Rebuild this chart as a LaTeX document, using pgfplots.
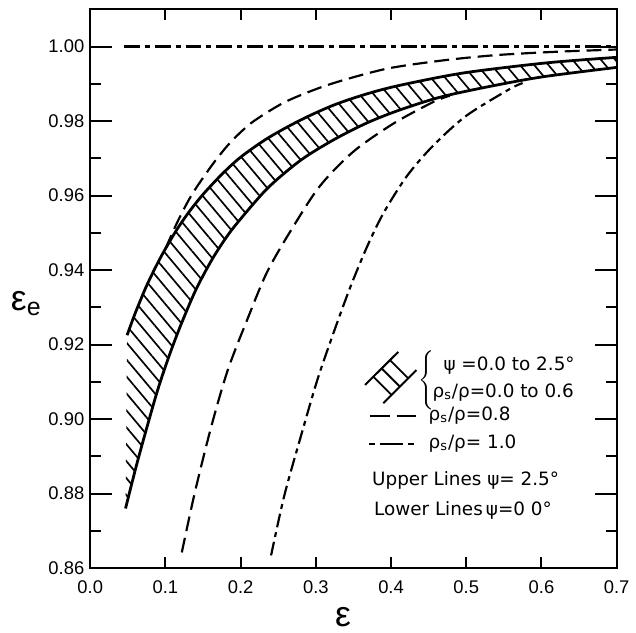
\documentclass[border=0pt]{standalone}
\usepackage{fontspec}
\setmainfont{Liberation Sans}
\newfontfamily\keyfont{DejaVu Sans}
\usepackage{pgfplots}
\pgfplotsset{compat=1.18}
\usepgfplotslibrary{fillbetween}
\usetikzlibrary{patterns.meta}

\begin{document}
\begin{tikzpicture}
\begin{axis}[
  scale only axis, width=265.5bp, height=282bp,
  xmin=0, xmax=0.7, ymin=0.86, ymax=1.0101,
  axis line style={line width=1bp},
  xtick={0,0.1,0.2,0.3,0.4,0.5,0.6,0.7},
  minor xtick={0.1,0.2,0.3,0.4,0.5,0.6},
  ytick={0.86,0.88,0.90,0.92,0.94,0.96,0.98,1.00},
  minor ytick={0.87,0.89,0.91,0.93,0.95,0.97,0.99,1.01},
  tick align=inside, xtick pos=both, ytick pos=both,
  major tick length=11bp, minor tick length=5.5bp,
  every tick/.append style={black, line width=1bp},
  every major x tick/.append style={draw opacity=0},
  tick label style={font=\fontsize{9.3}{11}\selectfont},
  /pgf/number format/assume math mode=true,
  xticklabel style={/pgf/number format/.cd, fixed, fixed zerofill, precision=1, /tikz/.cd, yshift=-3bp},
  yticklabel style={/pgf/number format/.cd, fixed, fixed zerofill, precision=2, /tikz/.cd, xshift=0.5bp},
  scaled ticks=false,
]
% hatched band, psi = 0.0 to 2.5 deg, rho_s/rho = 0.0 to 0.6
\addplot[name path=up, line width=1.4bp, smooth] coordinates {
  (0.049,0.9225) (0.060,0.9285) (0.075,0.9358) (0.090,0.9420) (0.100,0.9457)
  (0.115,0.9508) (0.131,0.9555) (0.150,0.9603) (0.175,0.9657) (0.200,0.9703)
  (0.236,0.9754) (0.280,0.9803) (0.324,0.9843) (0.368,0.9873) (0.412,0.9896)
  (0.496,0.9929) (0.606,0.9956) (0.700,0.9971)};
\addplot[name path=lo, line width=1.4bp, smooth] coordinates {
  (0.047,0.8760) (0.061,0.8872) (0.075,0.8975) (0.090,0.9080) (0.105,0.9170)
  (0.120,0.9250) (0.140,0.9345) (0.161,0.9425) (0.180,0.9485) (0.197,0.9530)
  (0.236,0.9620) (0.280,0.9695) (0.324,0.9750) (0.368,0.9795) (0.412,0.9830)
  (0.469,0.9866) (0.544,0.9898) (0.606,0.9920) (0.700,0.9944)};
\addplot[draw=none, pattern={Lines[angle=-50,distance=5.5bp,line width=0.85bp]}]
  fill between[of=up and lo];
% rho_s/rho = 0.8
\addplot[line width=1.1bp, dash pattern=on 7.5bp off 3.5bp, smooth] coordinates {
  (0.100,0.9457) (0.115,0.9525) (0.131,0.9588) (0.144,0.9630) (0.165,0.9690)
  (0.183,0.9735) (0.200,0.9770) (0.219,0.9802) (0.258,0.9850) (0.302,0.9887)
  (0.342,0.9913) (0.398,0.9942) (0.470,0.9963) (0.540,0.9977) (0.620,0.9986)
  (0.700,0.9992)};
\addplot[line width=1.1bp, dash pattern=on 7.5bp off 3.5bp, smooth] coordinates {
  (0.1218,0.8642) (0.139,0.8802) (0.161,0.8980) (0.183,0.9132) (0.210,0.9273)
  (0.236,0.9398) (0.271,0.9520) (0.306,0.9627) (0.350,0.9718) (0.403,0.9793)
  (0.456,0.9851) (0.478,0.9868)};
% rho_s/rho = 1.0
\addplot[line width=1.1bp, dash pattern=on 8bp off 2.5bp on 2.5bp off 2.5bp] coordinates {
  (0.045,1.0000) (0.700,1.0000)};
\addplot[line width=1.1bp, dash pattern=on 7bp off 2.5bp on 2.5bp off 2.5bp, smooth] coordinates {
  (0.2405,0.8634) (0.258,0.8794) (0.280,0.8953) (0.302,0.9105) (0.324,0.9234)
  (0.346,0.9355) (0.368,0.9462) (0.390,0.9553) (0.421,0.9652) (0.456,0.9734)
  (0.500,0.9814) (0.557,0.9885) (0.575,0.9902)};
\end{axis}
% labels and key, in pixel units of the reference
\begin{scope}[x=0.5bp, y=-0.5bp, shift={(-45.5bp,286.5bp)}]
  \path (0,0) rectangle (633,636);
  \node[font=\fontsize{18}{20}\selectfont] at (346,622) {ε};
  \node[font=\fontsize{18}{20}\selectfont, anchor=west] at (4,306) {ε\textsubscript{e}};
  % hatched key
  \draw[line width=1bp] (368.3,388.3) -- (401.7,355.0) (386.7,406.7) -- (420.0,373.3);
  \draw[line width=0.9bp] (376.65,379.98) -- (394.95,398.28)
                          (385.0,371.65) -- (403.3,389.95)
                          (393.35,363.33) -- (411.65,381.63);
  \node at (431,384) {\(\left\{\vrule height 12bp depth 12bp width 0pt\right.\)};
  \begin{scope}[every node/.style={font=\keyfont\fontsize{9.3}{11}\selectfont, anchor=west, inner sep=0pt}]
    \node at (447,369) {ψ =0.0 to 2.5°};
    \node at (436,396) {ρ\textsubscript{s}/ρ=0.0 to 0.6};
    \draw[line width=1bp, dash pattern=on 10bp off 3.5bp] (373,420) -- (420,420);
    \node at (432,419) {ρ\textsubscript{s}/ρ=0.8};
    \draw[line width=1bp, dash pattern=on 3bp off 2.5bp on 12bp off 2.5bp on 3bp off 3bp] (372,448) -- (420,448);
    \node at (432,447) {ρ\textsubscript{s}/ρ= 1.0};
    \node at (375,485) {Upper Lines ψ= 2.5°};
    \node at (377,515) {Lower Lines\,ψ=0 0°};
  \end{scope}
\end{scope}
\end{tikzpicture}
\end{document}
